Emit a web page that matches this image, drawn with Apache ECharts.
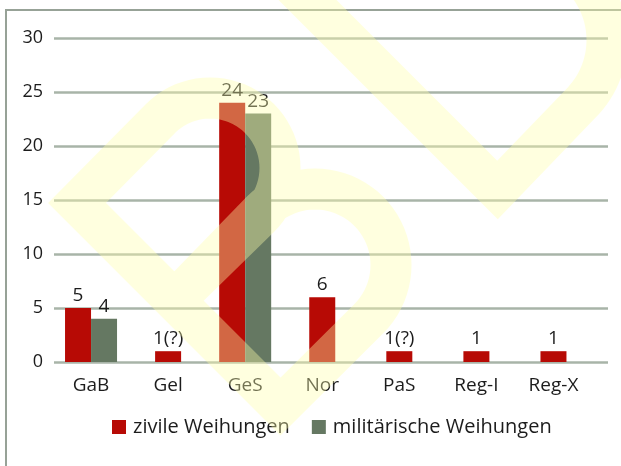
<!DOCTYPE html>
<html>
<head>
<meta charset="utf-8">
<script src="https://cdn.jsdelivr.net/npm/echarts@6/dist/echarts.min.js"></script>
<style>
  html, body { margin: 0; padding: 0; background: #ffffff; }
  #chart { width: 621px; height: 466px; }
</style>
</head>
<body>
<div id="chart"></div>
<script>
// Weihungen je Fundort
const categories = ['GaB', 'Gel', 'GeS', 'Nor', 'PaS', 'Reg-I', 'Reg-X'];
const zivile = [5, 1, 24, 6, 1, 1, 1];
const zivileLabels = ['5', '1(?)', '24', '6', '1(?)', '1', '1'];
const militaerisch = [4, null, 23, null, null, null, null];
const yTicks = { min: 0, max: 30, interval: 5 };

const FONT = '"Open Sans", "Noto Sans", sans-serif';
const TEXT = '#1c1c1c';
const RED = '#b70a05';
const GREEN = '#657862';

// Sites with both kinds of dedication get a bar pair; the rest a single centred bar.
const hasPair = militaerisch.map(v => v != null);
const zivilePaired = zivile.map((v, i) => hasPair[i] ? v : '-');
const zivileSingle = zivile.map((v, i) => hasPair[i] ? '-' : v);
const militaerPaired = militaerisch.map(v => v == null ? '-' : v);

// Yellow emblem laid over the plot
function arc(cx, cy, r, a0, a1, n) {
  const pts = [];
  for (let k = 0; k <= n; k++) {
    const a = (a0 + (a1 - a0) * k / n) * Math.PI / 180;
    pts.push([cx + r * Math.cos(a), cy + r * Math.sin(a)]);
  }
  return pts;
}
const bPath = [].concat(
  [[280.5, 406.5], [77, 203]],
  arc(210, 168, 70, -135, 45, 40),
  [[174.5, 300.5]],
  arc(315, 265, 76, -135, 45, 40)
);
const vPath = [].concat(
  [[280, -27.5], [497.5, 190]],
  arc(517, 40, 90, 45, -110, 50)
);
const emblemStyle = {
  fill: 'none',
  stroke: 'rgba(255,255,170,0.38)',
  lineWidth: 41,
  lineJoin: 'miter',
  miterLimit: 4
};

const labelStyle = {
  show: true,
  position: 'top',
  distance: 3,
  fontFamily: FONT,
  fontSize: 19,
  color: TEXT,
  formatter: p => zivileLabels[p.dataIndex]
};

const chart = echarts.init(document.getElementById('chart'), null, { renderer: 'canvas' });
chart.setOption({
  animation: false,
  backgroundColor: '#ffffff',
  textStyle: { fontFamily: FONT },
  grid: [
    { left: 54, right: 13, top: 38, bottom: 104 },
    { left: 52.5, right: 29, top: 38, bottom: 104 }
  ],
  legend: {
    data: ['zivile Weihungen', 'militärische Weihungen'],
    left: 112,
    top: 417,
    padding: 0,
    icon: 'rect',
    itemWidth: 14,
    itemHeight: 14,
    itemGap: 22,
    textStyle: { fontFamily: FONT, fontSize: 20, color: TEXT, padding: [0, 0, 0, 2] }
  },
  xAxis: [
    {
      type: 'category', gridIndex: 1, data: categories,
      axisLine: { show: false }, axisTick: { show: false },
      axisLabel: { fontFamily: FONT, fontSize: 19, color: TEXT, margin: 14 }
    },
    { type: 'category', gridIndex: 1, data: categories, show: false },
    { type: 'category', gridIndex: 0, data: categories, show: false }
  ],
  yAxis: [
    {
      type: 'value', gridIndex: 0, min: yTicks.min, max: yTicks.max, interval: yTicks.interval,
      axisLine: { show: false }, axisTick: { show: false },
      axisLabel: { fontFamily: FONT, fontSize: 18, color: TEXT, margin: 11 },
      splitLine: { lineStyle: { color: '#a8b4a8', width: 2.6 } }
    },
    {
      type: 'value', gridIndex: 1, min: yTicks.min, max: yTicks.max, interval: yTicks.interval,
      show: false, splitLine: { show: false }
    }
  ],
  series: [
    {
      name: 'zivile Weihungen', type: 'bar', xAxisIndex: 0, yAxisIndex: 1,
      data: zivilePaired, barWidth: 26, barGap: '0%',
      itemStyle: { color: RED }, label: labelStyle
    },
    {
      name: 'militärische Weihungen', type: 'bar', xAxisIndex: 0, yAxisIndex: 1,
      data: militaerPaired, barWidth: 26, barGap: '0%',
      itemStyle: { color: GREEN },
      label: Object.assign({}, labelStyle, { formatter: p => String(militaerisch[p.dataIndex]) })
    },
    {
      name: 'zivile Weihungen', type: 'bar', xAxisIndex: 1, yAxisIndex: 1,
      data: zivileSingle, barWidth: 26,
      itemStyle: { color: RED }, label: labelStyle
    }
  ],
  graphic: [
    {
      type: 'rect', silent: true, z: 1,
      shape: { x: 6, y: 10, width: 800, height: 600 },
      style: { fill: 'none', stroke: '#97a297', lineWidth: 2 }
    },
    { type: 'polygon', silent: true, z: 100, shape: { points: bPath }, style: emblemStyle },
    { type: 'polyline', silent: true, z: 100, shape: { points: vPath }, style: emblemStyle }
  ]
});
</script>
</body>
</html>
